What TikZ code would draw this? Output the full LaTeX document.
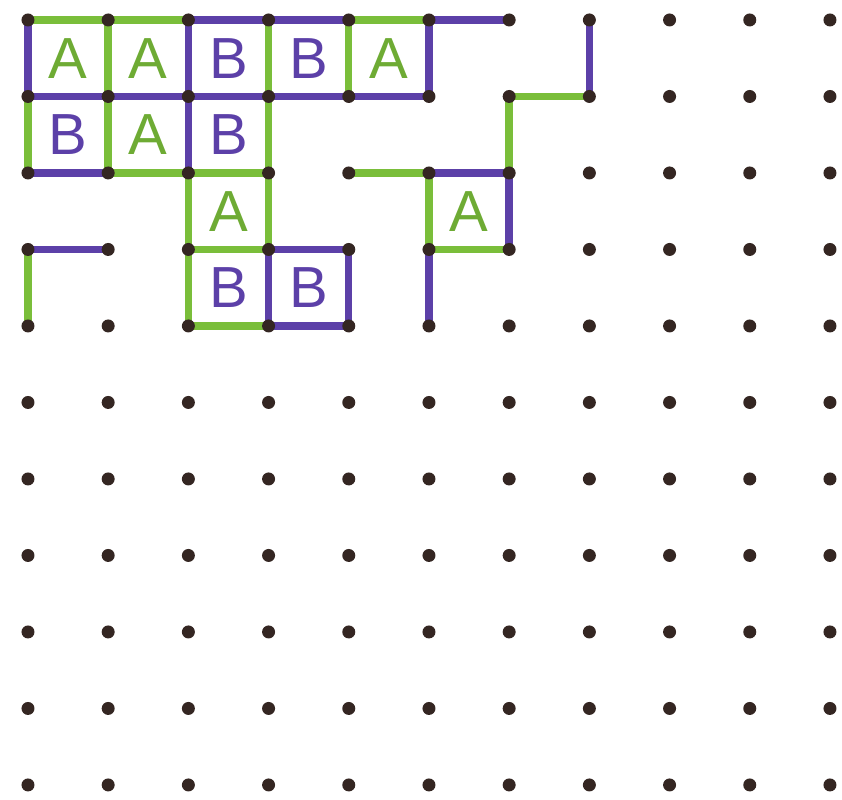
\documentclass[tikz,border=0pt]{standalone}
\usepackage{fontspec}
\setsansfont{Liberation Sans}
\usepackage{tikz}
\usetikzlibrary{positioning}
\definecolor{penGreen}{RGB}{122,190,58}
\definecolor{penPurple}{RGB}{92,64,168}
\definecolor{penDot}{RGB}{52,38,34}

\begin{document}
\begin{tikzpicture}[
  x=1.604cm, y=-1.53cm,
  grn/.style ={draw=penGreen, line width=4.2pt, line cap=round},
  prp/.style ={draw=penPurple, line width=4.2pt, line cap=round},
  dot/.style ={circle, fill=penDot, inner sep=0pt, minimum size=2.6mm},
  lblA/.style={text=penGreen!90!black, font=\sffamily\fontsize{33}{33}\selectfont},
  lblB/.style={text=penPurple, font=\sffamily\fontsize{33}{33}\selectfont},
]
\useasboundingbox (-0.349,-0.261) rectangle (10.150,10.196);
% grid points
\foreach \c in {0,...,10}
  \foreach \r in {0,...,10}
    \coordinate (p-\c-\r) at (\c,\r);
% green edges
\foreach \a/\b in {0-0/1-0, 1-0/2-0, 4-0/5-0, 6-1/7-1, 1-2/2-2, 2-2/3-2, 4-2/5-2,
                   2-3/3-3, 5-3/6-3, 2-4/3-4,
                   1-0/1-1, 3-0/3-1, 4-0/4-1, 0-1/0-2, 1-1/1-2, 3-1/3-2, 6-1/6-2,
                   2-2/2-3, 3-2/3-3, 5-2/5-3, 0-3/0-4, 2-3/2-4}
  \draw[grn] (p-\a) -- (p-\b);
% purple edges
\foreach \a/\b in {2-0/3-0, 3-0/4-0, 5-0/6-0, 0-1/1-1, 1-1/2-1, 2-1/3-1, 3-1/4-1,
                   4-1/5-1, 0-2/1-2, 5-2/6-2, 0-3/1-3, 3-3/4-3, 3-4/4-4,
                   0-0/0-1, 2-0/2-1, 5-0/5-1, 7-0/7-1, 2-1/2-2, 6-2/6-3,
                   3-3/3-4, 4-3/4-4, 5-3/5-4}
  \draw[prp] (p-\a) -- (p-\b);
% dots
\foreach \c in {0,...,10}
  \foreach \r in {0,...,10}
    \node[dot] (d-\c-\r) at (p-\c-\r) {};
% cell labels
\foreach \c/\r in {0/0, 1/0, 4/0, 1/1, 2/2, 5/2}
  \node[lblA] (a-\c-\r) at (\c+0.5,\r+0.5) {A};
\foreach \c/\r in {2/0, 3/0, 0/1, 2/1, 2/3, 3/3}
  \node[lblB] (b-\c-\r) at (\c+0.5,\r+0.5) {B};
\end{tikzpicture}
\end{document}
